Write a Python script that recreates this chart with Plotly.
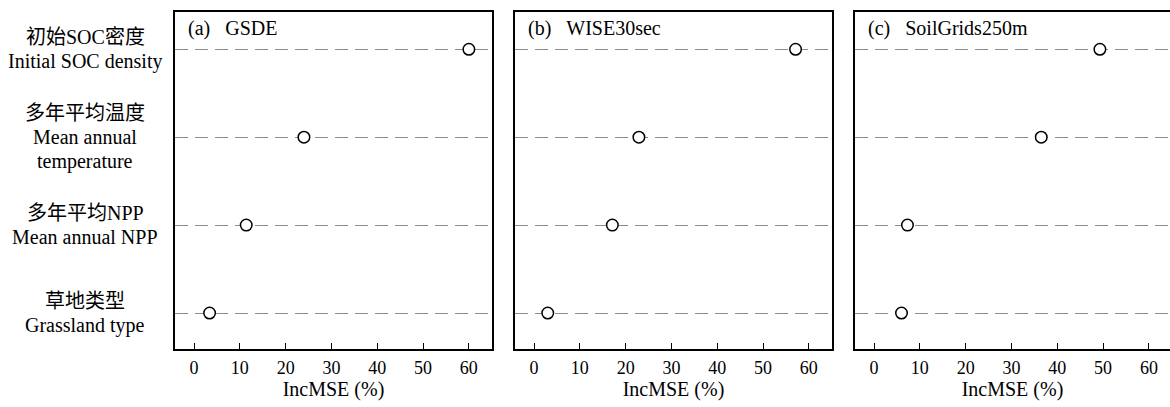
import plotly.graph_objects as go

categories = [["初始SOC密度", "Initial SOC density"],
              ["多年平均温度", "Mean annual", "temperature"],
              ["多年平均NPP", "Mean annual NPP"],
              ["草地类型", "Grassland type"]]
panel_titles = ["(a)\u00a0\u00a0\u00a0GSDE", "(b)\u00a0\u00a0\u00a0WISE30sec", "(c)\u00a0\u00a0\u00a0SoilGrids250m"]
gsde = [60.0, 24.0, 11.4, 3.4]
wise = [57.1, 22.9, 17.1, 3.0]
soilgrids = [49.3, 36.5, 7.3, 6.0]
xticks = [0, 10, 20, 30, 40, 50, 60]
x_title = "IncMSE (%)"

series = [gsde, wise, soilgrids]
ypos = list(range(len(categories)))

W, H = 1170, 407
FONT = "Liberation Serif, Noto Sans CJK SC, serif"
SERIF = "Liberation Serif"

fig = go.Figure()
domains = [(175 / W, 492 / W), (515 / W, 832 / W), (855 / W, 1.0)]
ranges = [[-4.15, 65.05], [-4.15, 65.05], [-4.15, 64.6]]
ydom = [1 - 349 / H, 1 - 12 / H]

for i, vals in enumerate(series):
    xa = "x" if i == 0 else f"x{i+1}"
    ya = "y" if i == 0 else f"y{i+1}"
    fig.add_trace(go.Scatter(
        x=vals, y=ypos, mode="markers", xaxis=xa, yaxis=ya,
        marker=dict(symbol="circle", size=11.5, color="white",
                    line=dict(color="black", width=1.5)),
        showlegend=False, hoverinfo="x+y"))
    sfx = "" if i == 0 else str(i + 1)
    fig.layout["xaxis" + sfx] = dict(
        domain=list(domains[i]), range=ranges[i], anchor=ya,
        tickvals=xticks,
        ticks="inside", ticklen=6, tickwidth=1.3, tickcolor="black",
        showline=True, linecolor="black", linewidth=1.5, mirror=True,
        showgrid=False, zeroline=False, ticklabelstandoff=2,
        tickfont=dict(family=SERIF, size=18, color="black"),
        title=dict(text=x_title, font=dict(family=SERIF, size=20, color="black"), standoff=4),
        automargin=False)
    fig.layout["yaxis" + sfx] = dict(
        domain=ydom, range=[3.409, -0.424], anchor=xa,
        tickvals=ypos, showticklabels=False, ticks="",
        showline=True, linecolor="black", linewidth=1.5, mirror=(i < 2),
        showgrid=True, gridcolor="#8c8c8c", gridwidth=1.2, griddash="13px,7px",
        zeroline=False, automargin=False)
    fig.add_annotation(
        text=panel_titles[i], xref="paper", yref="paper",
        x=domains[i][0] + 11 / W, y=1 - 29 / H, xanchor="left", yanchor="middle",
        showarrow=False, font=dict(family=SERIF, size=20, color="black"))

LINE = 24
for j, lines in enumerate(categories):
    n = len(lines)
    for k, line in enumerate(lines):
        fig.add_annotation(
            text=line, xref="paper", yref="y", x=85 / W, y=ypos[j],
            yshift=-(k - (n - 1) / 2) * LINE,
            xanchor="center", yanchor="middle", align="center", showarrow=False,
            font=dict(family=FONT, size=20, color="black"))

fig.update_layout(width=W, height=H, margin=dict(l=0, r=0, t=0, b=0),
                  plot_bgcolor="white", paper_bgcolor="white",
                  font=dict(family=FONT, size=18, color="black"))
fig.write_html("out.html", config={"displayModeBar": False},
               post_script="document.body.style.margin='0';document.body.style.overflow='hidden';")
